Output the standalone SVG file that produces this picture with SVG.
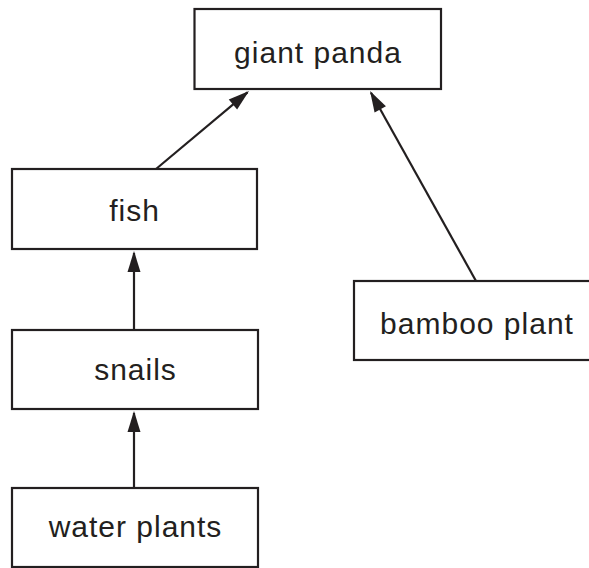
<svg xmlns="http://www.w3.org/2000/svg" width="589" height="568" viewBox="0 0 589 568">
<defs>
<marker id="ah" markerUnits="userSpaceOnUse" markerWidth="21" markerHeight="13" refX="19" refY="6.5" orient="auto" overflow="visible">
<path d="M0,0 L21,6.5 L0,13 z" fill="#231f20"/>
</marker>
<style>
.box{fill:#fff;stroke:#231f20;stroke-width:2.2}
.lbl{font-family:"Liberation Sans",Arial,sans-serif;font-size:30px;letter-spacing:1px;fill:#231f20;text-anchor:middle}
.con{stroke:#231f20;stroke-width:2.2;fill:none;marker-end:url(#ah)}
</style>
</defs>
<rect width="589" height="568" fill="#fff"/>
<g id="connectors">
<line class="con" x1="156" y1="169" x2="247.5" y2="92.3"/>
<line class="con" x1="476" y1="281" x2="371" y2="92.7"/>
<line class="con" x1="134" y1="330" x2="134" y2="253"/>
<line class="con" x1="134" y1="488" x2="134" y2="413"/>
</g>
<g id="giant-panda">
<rect class="box" x="194.5" y="9" width="246.5" height="80"/>
<text class="lbl" x="318" y="62.5">giant panda</text>
</g>
<g id="fish">
<rect class="box" x="12" y="169" width="245" height="80"/>
<text class="lbl" x="134.5" y="221">fish</text>
</g>
<g id="bamboo-plant">
<rect class="box" x="354" y="281" width="245" height="79"/>
<text class="lbl" x="477" y="334">bamboo plant</text>
</g>
<g id="snails">
<rect class="box" x="12" y="330" width="246" height="79"/>
<text class="lbl" x="135.5" y="380">snails</text>
</g>
<g id="water-plants">
<rect class="box" x="12" y="488" width="246" height="79"/>
<text class="lbl" x="135.5" y="537">water plants</text>
</g>
</svg>
